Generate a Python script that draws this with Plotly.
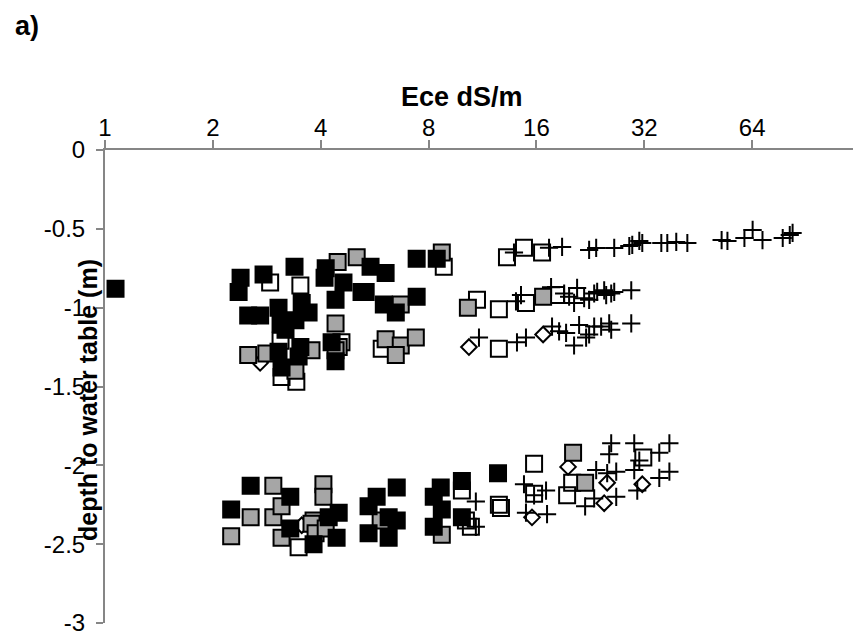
import math
import plotly.graph_objects as go

# ---- data (Ece dS/m, depth to water table m) ----
black_x = [1.07, 2.39, 2.36, 2.77, 3.38, 4.13, 4.10, 4.63, 5.20, 4.40, 2.51, 2.71, 3.05, 3.54, 3.70,
           3.09, 3.40, 3.19, 3.05, 3.51, 3.47, 3.11, 4.29, 4.40, 5.51, 6.07, 5.34, 6.00, 6.48, 7.41,
           7.41, 8.43,
           2.55, 2.25, 3.29, 3.29, 4.21, 4.49, 3.82, 4.43, 5.73, 6.52, 5.44, 6.19, 6.52, 5.44, 6.19,
           8.65, 8.27, 9.91, 8.71, 8.27, 9.91, 12.50]
black_y = [-0.88, -0.81, -0.90, -0.79, -0.74, -0.75, -0.81, -0.84, -0.90, -0.95, -1.05, -1.05, -1.00, -0.97, -1.03,
           -1.10, -1.08, -1.14, -1.28, -1.25, -1.31, -1.38, -1.22, -1.34, -0.74, -0.78, -0.90, -0.98, -1.03, -0.93,
           -0.69, -0.69,
           -2.13, -2.28, -2.20, -2.40, -2.33, -2.30, -2.50, -2.46, -2.20, -2.14, -2.26, -2.33, -2.35, -2.43, -2.46,
           -2.14, -2.20, -2.10, -2.28, -2.39, -2.33, -2.05]

gray_x = [4.46, 5.04, 8.71, 6.69, 4.40, 4.49, 6.07, 6.69, 7.37, 6.48, 2.51, 2.82, 3.77, 3.40, 4.40,
          10.30, 16.70,
          2.95, 2.55, 2.25, 2.95, 3.11, 3.11, 4.07, 4.07, 3.82, 3.77, 3.87, 4.13, 5.88, 8.71, 20.25, 21.88]
gray_y = [-0.71, -0.68, -0.65, -0.98, -1.10, -1.25, -1.20, -1.24, -1.19, -1.30, -1.30, -1.29, -1.27, -1.40, -1.27,
          -1.00, -0.93,
          -2.13, -2.33, -2.45, -2.33, -2.26, -2.46, -2.12, -2.20, -2.35, -2.37, -2.43, -2.40, -2.35, -2.44, -1.92, -2.11]

open_x = [2.89, 3.51, 3.09, 3.11, 3.42, 4.57, 5.92, 8.82, 13.24, 14.77, 16.59, 10.92, 12.57, 14.96, 18.15, 12.57,
          3.47, 9.91, 10.50, 10.17, 12.57, 12.74, 15.76, 15.76, 20.13, 19.49, 31.80]
open_y = [-0.84, -0.86, -1.21, -1.44, -1.47, -1.22, -1.26, -0.74, -0.68, -0.62, -0.65, -0.95, -1.01, -0.97, -0.92, -1.26,
          -2.52, -2.16, -2.39, -2.35, -2.25, -2.27, -1.99, -2.18, -2.11, -2.19, -1.95]

diamond_x = [10.37, 16.70, 15.55, 19.61, 24.73, 25.21, 31.59, 3.54, 2.71]
diamond_y = [-1.25, -1.17, -2.33, -2.01, -2.24, -2.11, -2.12, -2.38, -1.35]

cross_x = [13.85, 17.35, 18.87, 22.45, 23.49, 26.38, 29.06, 29.62, 30.99, 31.59, 35.70, 37.1, 39.3, 42.2,
           52.6, 54.6, 60.9, 64.2, 68.4, 77.9, 81.5, 83.0,
           14.03, 14.49, 17.58, 19.12, 19.74, 20.38, 20.78, 21.74, 22.45, 23.19, 23.64, 24.73, 25.05, 25.87, 26.38, 29.43,
           11.06, 14.12, 14.96, 17.69, 18.51, 19.36, 20.38, 21.05, 22.02, 22.45, 23.19, 24.25, 25.54, 25.87, 29.43,
           10.84, 10.84, 14.77, 17.02, 14.96, 17.13, 21.88, 23.49, 23.19, 25.21, 25.54, 25.87, 26.72, 26.72,
           30.0, 30.0, 30.99, 30.59, 35.24, 37.6, 35.24, 37.6, 15.76]
cross_y = [-0.65, -0.62, -0.615, -0.634, -0.621, -0.621, -0.609, -0.602, -0.577, -0.590, -0.590, -0.590, -0.583, -0.590,
           -0.571, -0.577, -0.558, -0.507, -0.571, -0.558, -0.539, -0.526,
           -0.96, -0.92, -0.87, -0.91, -0.93, -0.97, -0.875, -0.94, -0.95, -0.91, -0.90, -0.89, -0.92, -0.91, -0.90, -0.89,
           -1.19, -1.22, -1.19, -1.12, -1.15, -1.16, -1.24, -1.11, -1.19, -1.17, -1.12, -1.12, -1.10, -1.14, -1.10,
           -2.23, -2.39, -2.12, -2.16, -2.30, -2.31, -2.26, -2.03, -2.21, -2.05, -1.93, -1.86, -2.04, -2.20,
           -1.86, -2.03, -1.97, -2.16, -1.92, -1.86, -2.08, -2.04, -2.19]

x_ticks = [1, 2, 4, 8, 16, 32, 64]
y_ticks = [0, -0.5, -1, -1.5, -2, -2.5, -3]
y_tick_text = ["0", "-0.5", "-1", "-1.5", "-2", "-2.5", "-3"]

FONT = "Liberation Sans, Arial, sans-serif"
fig = go.Figure()

fig.add_trace(go.Scatter(x=open_x, y=open_y, mode="markers",
                         marker=dict(symbol="square-open", size=16, color="black",
                                     line=dict(color="black", width=2))))
fig.add_trace(go.Scatter(x=diamond_x, y=diamond_y, mode="markers",
                         marker=dict(symbol="diamond-open", size=12, color="black",
                                     line=dict(color="black", width=2))))
fig.add_trace(go.Scatter(x=cross_x, y=cross_y, mode="markers",
                         marker=dict(symbol="cross-thin-open", size=13, color="black",
                                     line=dict(color="black", width=2))))
fig.add_trace(go.Scatter(x=gray_x, y=gray_y, mode="markers",
                         marker=dict(symbol="square", size=16, color="#a6a6a6",
                                     line=dict(color="black", width=2))))
fig.add_trace(go.Scatter(x=black_x, y=black_y, mode="markers",
                         marker=dict(symbol="square", size=16, color="black",
                                     line=dict(color="black", width=2))))

# page body has an 8px default margin, so the figure is sized/shifted to compensate
PAD = 8
L, T, PW, PH = 105, 150, 755, 473
axis_col = "#868686"
fig.update_layout(
    width=861 - PAD, height=640 - PAD,
    margin=dict(l=L - PAD, r=1, t=T - PAD, b=17),
    paper_bgcolor="white", plot_bgcolor="white",
    showlegend=False,
    font=dict(family=FONT, size=24, color="black"),
    xaxis=dict(type="log", range=[0, math.log10(128)], side="top",
               tickvals=x_ticks, ticktext=[str(v) for v in x_ticks],
               ticks="outside", ticklen=8, tickcolor=axis_col, tickwidth=2,
               showline=True, linecolor=axis_col, linewidth=2,
               showgrid=False, zeroline=False, tickfont=dict(size=24),
               ticklabelstandoff=-6),
    yaxis=dict(range=[-3, 0], tickvals=y_ticks, ticktext=y_tick_text,
               ticks="outside", ticklen=7, tickcolor=axis_col, tickwidth=2,
               showline=True, linecolor=axis_col, linewidth=2,
               showgrid=False, zeroline=False, tickfont=dict(size=24),
               ticklabelstandoff=6),
    annotations=[
        dict(text="<b>a)</b>", xref="paper", yref="paper", x=(13 - L) / PW, y=1 + (T - 26) / PH,
             xanchor="left", yanchor="middle", showarrow=False, font=dict(size=27)),
        dict(text="<b>Ece dS/m</b>", xref="paper", yref="paper", x=(462 - L) / PW, y=1 + (T - 97) / PH,
             xanchor="center", yanchor="middle", showarrow=False, font=dict(size=27)),
        dict(text="<b>depth to water table (m)</b>", xref="paper", yref="paper",
             x=(88 - L) / PW, y=1 - (400 - T) / PH, textangle=-90,
             xanchor="center", yanchor="middle", showarrow=False, font=dict(size=25)),
    ],
)

fig.write_html("out.html")
